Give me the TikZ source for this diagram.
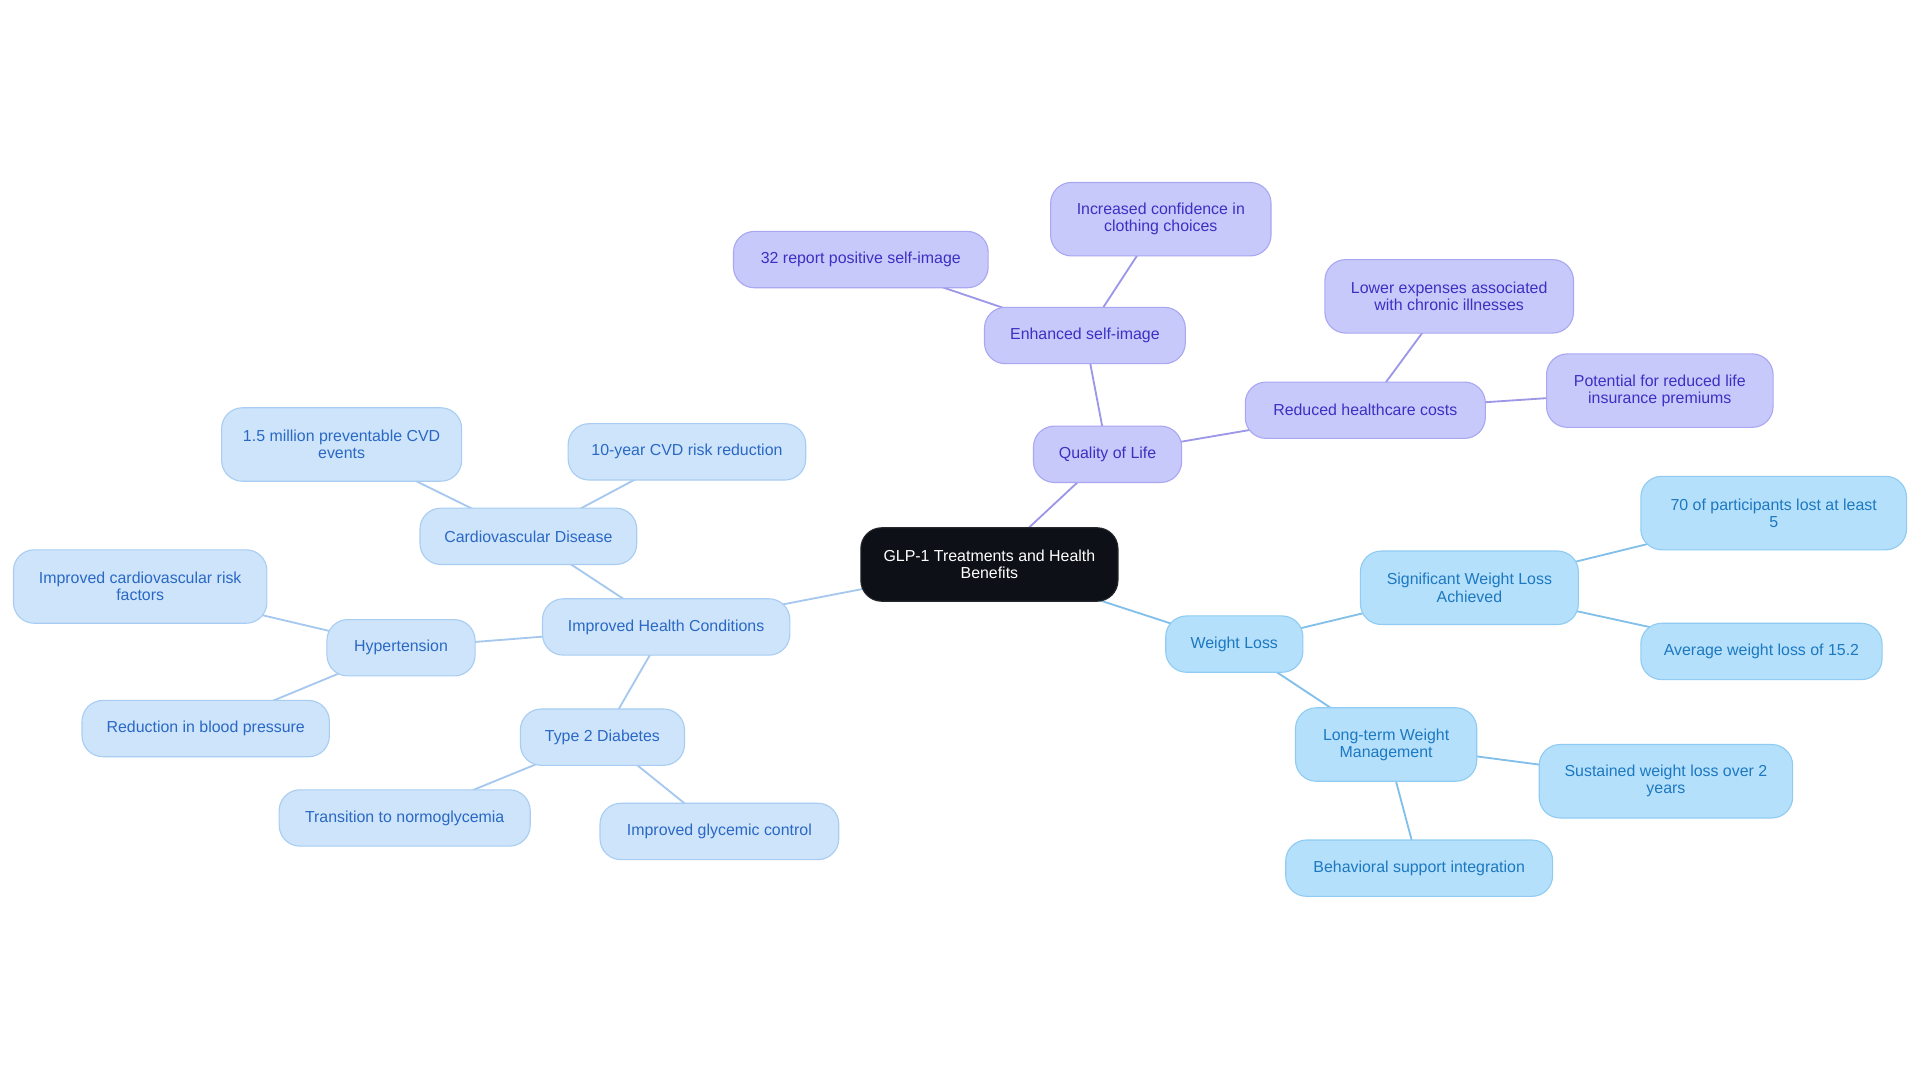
\documentclass[tikz,border=0pt]{standalone}
\usepackage{fontspec}
\setmainfont{Liberation Sans}
\usetikzlibrary{backgrounds}
\definecolor{pfill}{HTML}{C8C9FB}
\definecolor{pdraw}{HTML}{A9A7F1}
\definecolor{ptext}{HTML}{3A30C2}
\definecolor{pline}{HTML}{9D97E8}
\definecolor{bfill}{HTML}{B5E0FB}
\definecolor{bdraw}{HTML}{8FCBF2}
\definecolor{btext}{HTML}{1C78C0}
\definecolor{bline}{HTML}{82C0EA}
\definecolor{lfill}{HTML}{CDE4FB}
\definecolor{ldraw}{HTML}{A9CDF2}
\definecolor{ltext}{HTML}{2A68C4}
\definecolor{lline}{HTML}{A6C8EF}
\definecolor{cfill}{HTML}{0D1117}
\begin{document}
\begin{tikzpicture}[x=1pt,y=-1pt,
  box/.style={rounded corners=17pt, inner sep=0pt, align=center,
    font=\fontsize{13}{14}\selectfont, line width=0.9pt},
  pbox/.style={box, fill=pfill, draw=pdraw, text=ptext},
  bbox/.style={box, fill=bfill, draw=bdraw, text=btext},
  lbox/.style={box, fill=lfill, draw=ldraw, text=ltext},
  cbox/.style={box, fill=cfill, draw=cfill!80!gray, text=white},
  sz/.style 2 args={minimum width=#1pt, minimum height=#2pt},
  pedge/.style={draw=pline, line width=1.5pt},
  bedge/.style={draw=bline, line width=1.5pt},
  ledge/.style={draw=lline, line width=1.5pt}]
\useasboundingbox (0,0) rectangle (1568,884.4);
% nodes
\node[cbox, sz={210}{60}] (c) at (808,461) {GLP-1 Treatments and Health\\Benefits};
\node[pbox, sz={121}{46}] (qol) at (904.5,371) {Quality of Life};
\node[pbox, sz={164}{46}] (esi) at (886,274) {Enhanced self-image};
\node[pbox, sz={180}{60}] (icc) at (948,179) {Increased confidence in\\clothing choices};
\node[pbox, sz={208}{46}] (rps) at (703,212) {32 report positive self-image};
\node[pbox, sz={196}{46}] (rhc) at (1115,335) {Reduced healthcare costs};
\node[pbox, sz={203}{60}] (lec) at (1183.5,242) {Lower expenses associated\\with chronic illnesses};
\node[pbox, sz={185}{60}] (prl) at (1355.5,319) {Potential for reduced life\\insurance premiums};
\node[bbox, sz={112}{46}] (wl) at (1008,526) {Weight Loss};
\node[bbox, sz={178}{60}] (swl) at (1200,480) {Significant Weight Loss\\Achieved};
\node[bbox, sz={217}{60}] (sev) at (1448.5,419) {70 of participants lost at least\\5};
\node[bbox, sz={197}{46}] (avg) at (1438.5,532) {Average weight loss of 15.2};
\node[bbox, sz={148}{60}] (ltw) at (1132,608) {Long-term Weight\\Management};
\node[bbox, sz={207}{60}] (sus) at (1360.5,638) {Sustained weight loss over 2\\years};
\node[bbox, sz={218}{46}] (bsi) at (1159,709) {Behavioral support integration};
\node[lbox, sz={202}{46}] (ihc) at (544,512) {Improved Health Conditions};
\node[lbox, sz={177}{46}] (cvd) at (431.5,438) {Cardiovascular Disease};
\node[lbox, sz={196}{60}] (pce) at (279,363) {1.5 million preventable CVD\\events};
\node[lbox, sz={194}{46}] (tyr) at (561,369) {10-year CVD risk reduction};
\node[lbox, sz={121}{46}] (hyp) at (327.5,529) {Hypertension};
\node[lbox, sz={207}{60}] (icr) at (114.5,479) {Improved cardiovascular risk\\factors};
\node[lbox, sz={202}{46}] (rbp) at (168,595) {Reduction in blood pressure};
\node[lbox, sz={134}{46}] (t2d) at (492,602) {Type 2 Diabetes};
\node[lbox, sz={205}{46}] (tno) at (330.5,668) {Transition to normoglycemia};
\node[lbox, sz={195}{46}] (igc) at (587.5,679) {Improved glycemic control};
% edges (behind the nodes, centre to centre)
\begin{pgfonlayer}{background}
\fill[white] (0,0) rectangle (1568,884.4);
\path[pedge] (c.center) -- (qol.center);
\path[pedge] (qol.center) -- (esi.center);
\path[pedge] (esi.center) -- (icc.center);
\path[pedge] (esi.center) -- (rps.center);
\path[pedge] (qol.center) -- (rhc.center);
\path[pedge] (rhc.center) -- (lec.center);
\path[pedge] (rhc.center) -- (prl.center);
\path[bedge] (c.center) -- (wl.center);
\path[bedge] (wl.center) -- (swl.center);
\path[bedge] (swl.center) -- (sev.center);
\path[bedge] (swl.center) -- (avg.center);
\path[bedge] (wl.center) -- (ltw.center);
\path[bedge] (ltw.center) -- (sus.center);
\path[bedge] (ltw.center) -- (bsi.center);
\path[ledge] (c.center) -- (ihc.center);
\path[ledge] (ihc.center) -- (cvd.center);
\path[ledge] (cvd.center) -- (pce.center);
\path[ledge] (cvd.center) -- (tyr.center);
\path[ledge] (ihc.center) -- (hyp.center);
\path[ledge] (hyp.center) -- (icr.center);
\path[ledge] (hyp.center) -- (rbp.center);
\path[ledge] (ihc.center) -- (t2d.center);
\path[ledge] (t2d.center) -- (tno.center);
\path[ledge] (t2d.center) -- (igc.center);
\end{pgfonlayer}
\end{tikzpicture}
\end{document}
